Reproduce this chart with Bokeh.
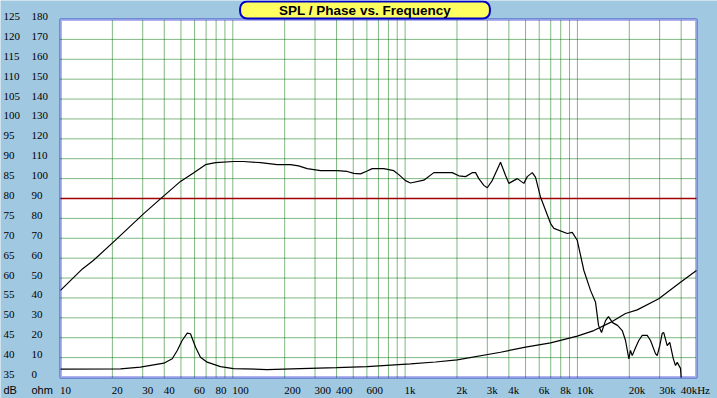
import math
from bokeh.plotting import figure
from bokeh.models import Range1d, LabelSet, Label, ColumnDataSource, BoxAnnotation
from bokeh.embed import file_html
from bokeh.resources import INLINE

# ---------------- data ----------------
spl_freq = [10, 13.4, 15.5, 21.3, 30.4, 38.0, 49.7, 59.4, 69.4, 79.4,
            101, 115, 145, 181, 216, 241, 270, 323, 404, 461,
            504, 551, 602, 644, 752, 859, 919, 1005, 1074, 1284,
            1468, 1876, 2049, 2243, 2451, 2563, 2678, 2864, 2998, 3202,
            3579, 3828, 4000, 4476, 4888, 5117, 5471, 5716, 6112, 6986,
            7300, 8730, 9330, 9977, 10900, 11910, 12740, 13260, 13800, 14560,
            15140, 15990, 17090, 18200, 19020, 19880, 20330, 20800, 21730, 22710,
            23780, 25420, 26560, 28380, 29040, 30060, 31040, 31700, 33190, 34360,
            35970, 37080, 37940, 39650, 40000]
spl_db = [56.9, 62.3, 64.4, 69.9, 76.2, 79.9, 84.3, 86.5, 88.5, 89.0,
          89.3, 89.3, 89.0, 88.5, 88.5, 88.2, 87.5, 87.0, 87.0, 86.8,
          86.3, 86.2, 86.9, 87.5, 87.5, 87.0, 86.0, 84.5, 83.9, 84.6,
          86.5, 86.5, 85.7, 85.5, 86.5, 86.5, 85.0, 83.3, 82.7, 84.5,
          89.1, 85.8, 83.8, 85.0, 83.8, 85.5, 86.5, 85.3, 80.3, 73.7,
          72.5, 71.2, 71.5, 69.5, 61.9, 56.9, 53.9, 48.1, 46.3, 49.3,
          50.3, 48.8, 48.1, 46.8, 44.3, 39.7, 41.8, 40.5, 42.5, 44.3,
          45.6, 45.6, 44.3, 41.0, 40.5, 43.0, 46.1, 46.3, 43.0, 43.8,
          39.8, 38.0, 38.8, 37.3, 35.0]

imp_freq = [10, 22.3, 29.1, 39.8, 44.5, 47.6, 50.8, 54.4, 56.8, 60.8,
            64.9, 71.0, 84.8, 101, 158, 247, 400, 602, 1074, 1500, 2005, 3579,
            5000, 6986, 9977, 12450, 15560, 19020, 22230, 29660, 39650, 49100]
imp_ohm = [4.2, 4.3, 5.2, 7.2, 9.4, 13.6, 18.6, 22.3, 22.0, 15.2,
           10.2, 7.7, 5.5, 4.5, 4.0, 4.5, 5.0, 5.5, 6.9, 7.8, 8.9, 12.7,
           15.3, 17.4, 20.8, 23.6, 27.7, 32.2, 34.0, 39.6, 47.9, 53.8]

grid_freqs = [20, 30, 40, 50, 60, 70, 80, 90, 100,
              200, 300, 400, 500, 600, 700, 800, 900, 1000,
              2000, 3000, 4000, 5000, 6000, 7000, 8000, 9000, 10000,
              20000, 30000, 40000]
x_tick_freqs = [10, 20, 30, 40, 60, 80, 100, 200, 300, 400, 600, 1000,
                2000, 3000, 4000, 6000, 8000, 10000, 20000, 30000, 40000]
x_tick_labels = ["10", "20", "30", "40", "60", "80", "100", "200", "300", "400", "600", "1k",
                 "2k", "3k", "4k", "6k", "8k", "10k", "20k", "30k", "40kHz"]
db_ticks = list(range(35, 130, 5))
ohm_ticks = list(range(0, 190, 10))
db_unit = "dB"
ohm_unit = "ohm"
ref_level_db = 80
title_text = "SPL / Phase vs. Frequency"

X_MIN, X_MAX = 10, 49100
DB_MIN, DB_MAX = 35, 125
OHM_MIN, OHM_MAX = 0, 180

# ---------------- style / layout ----------------
FONT = "Liberation Sans"
BG = "#a0c8e0"
GRID_GREEN = "#007000"
FRAME_BLUE = "#0000c8"
W, H = 717, 398
PL, PR, PT, PB = 60, 696, 19, 377   # plot-area edges in canvas pixels
LIFT = 3          # y labels sit this far above their grid line
ROW_DROP = 12.5   # bottom label row below the plot area
DB_COL, OHM_COL = 3, 31   # left edges of the two y label columns

px_dec = (PR - PL) / math.log10(X_MAX / X_MIN)
x_lo = 10 ** (math.log10(X_MIN) - PL / px_dec)
x_hi = 10 ** (math.log10(X_MAX) + (W - PR) / px_dec)
px_db = (PB - PT) / (DB_MAX - DB_MIN)
y_lo = DB_MIN - (H - PB) / px_db
y_hi = DB_MAX + PT / px_db
k_ohm = (OHM_MAX - OHM_MIN) / (DB_MAX - DB_MIN)

p = figure(width=W, height=H, x_axis_type="log",
           x_range=Range1d(x_lo, x_hi), y_range=Range1d(y_lo, y_hi),
           x_axis_location=None, y_axis_location=None,
           output_backend="svg", toolbar_location=None,
           min_border=0, min_border_left=0, min_border_right=0,
           min_border_top=0, min_border_bottom=0)
p.styles = {"margin": "0px"}
p.extra_y_ranges = {"ohm": Range1d(OHM_MIN + (y_lo - DB_MIN) * k_ohm,
                                   OHM_MIN + (y_hi - DB_MIN) * k_ohm)}
p.background_fill_color = BG
p.border_fill_color = BG
p.outline_line_color = None
p.grid.visible = False

# plot area
p.add_layout(BoxAnnotation(left=X_MIN, right=X_MAX, bottom=DB_MIN, top=DB_MAX,
                           fill_color="white", fill_alpha=1, line_color=None, level="underlay"))

# grid lines
p.segment(x0=grid_freqs, y0=[DB_MIN] * len(grid_freqs), x1=grid_freqs, y1=[DB_MAX] * len(grid_freqs),
          line_color=GRID_GREEN, line_dash="1 1", line_width=1)
inner_db = db_ticks[1:-1]
p.segment(x0=[X_MIN] * len(inner_db), y0=inner_db, x1=[X_MAX] * len(inner_db), y1=inner_db,
          line_color=GRID_GREEN, line_dash="1 1", line_width=1)
p.segment(x0=[X_MIN], y0=[ref_level_db], x1=[X_MAX], y1=[ref_level_db],
          line_color="#a00000", line_width=1.3)

# curves
p.line(spl_freq, spl_db, line_color="black", line_width=1.2)
p.line(imp_freq, imp_ohm, line_color="black", line_width=1.2, y_range_name="ohm")

# plot-area border
p.add_layout(BoxAnnotation(left=X_MIN, right=X_MAX, bottom=DB_MIN, top=DB_MAX,
                           fill_alpha=0, line_color=FRAME_BLUE, line_width=3, level="overlay"))

# labels
txt = dict(text_font=FONT, text_font_size="11px", text_color="black",
           text_align="left", text_baseline="middle")
db_src = ColumnDataSource(dict(x=[X_MIN] * len(db_ticks), y=db_ticks, t=[str(v) for v in db_ticks]))
p.add_layout(LabelSet(x="x", y="y", text="t", source=db_src,
                      x_offset=DB_COL - PL, y_offset=LIFT, **txt))
ohm_src = ColumnDataSource(dict(x=[X_MIN] * len(ohm_ticks), y=ohm_ticks, t=[str(v) for v in ohm_ticks]))
p.add_layout(LabelSet(x="x", y="y", text="t", source=ohm_src, y_range_name="ohm",
                      x_offset=OHM_COL - PL, y_offset=LIFT, **txt))
x_src = ColumnDataSource(dict(x=x_tick_freqs, y=[DB_MIN] * len(x_tick_freqs), t=x_tick_labels))
p.add_layout(LabelSet(x="x", y="y", text="t", source=x_src, x_offset=-0.5, y_offset=-ROW_DROP, **txt))
p.add_layout(Label(x=X_MIN, y=DB_MIN, text=db_unit, x_offset=DB_COL - PL, y_offset=-ROW_DROP, **txt))
p.add_layout(Label(x=X_MIN, y=DB_MIN, text=ohm_unit, x_offset=OHM_COL - PL, y_offset=-ROW_DROP, **txt))

# title box
p.add_layout(Label(x=X_MIN, y=DB_MAX, x_offset=364.5 - PL, y_offset=PT - 9.5, text=title_text,
                   text_font=FONT, text_font_size="13.5px", text_font_style="bold",
                   text_color="black", text_align="center", text_baseline="middle",
                   background_fill_color="#ffff60", border_line_color=FRAME_BLUE,
                   border_line_width=2, padding=dict(left=39, right=39, top=1, bottom=1),
                   border_radius=7))

open("out.html", "w").write(file_html(p, INLINE))
